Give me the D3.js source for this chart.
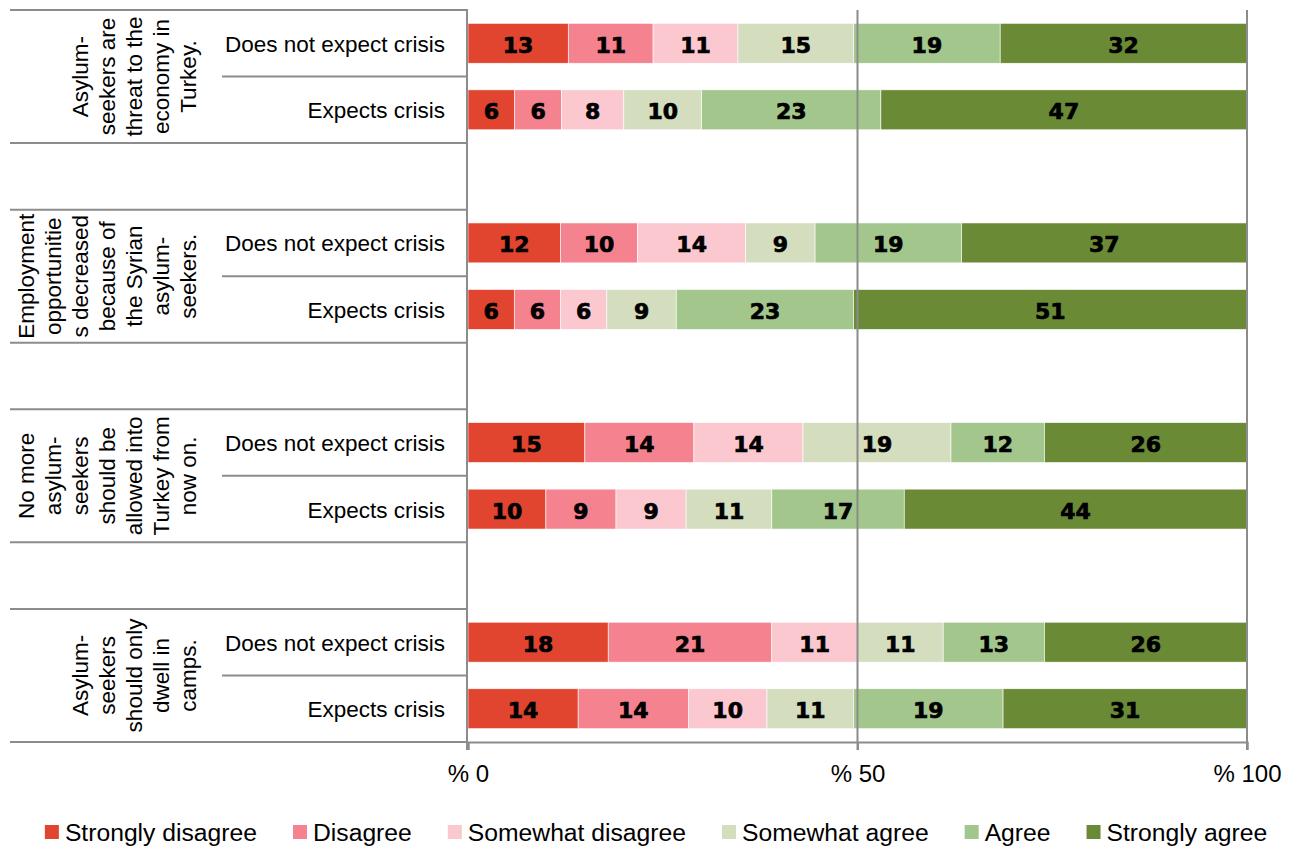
<!DOCTYPE html>
<html>
<head>
<meta charset="utf-8">
<script src="https://cdn.jsdelivr.net/npm/d3@7"></script>
<style>
  html, body { margin: 0; padding: 0; background: #fff; }
  svg { display: block; }
</style>
</head>
<body>
<svg id="chart" width="1302" height="848"></svg>
<script>
// ---------- DATA ----------
const groupLabels = [
  ["Asylum-", "seekers are", "threat to the", "economy in", "Turkey."],
  ["Employment", "opportunitie", "s decreased", "because of", "the Syrian", "asylum-", "seekers."],
  ["No more", "asylum-", "seekers", "should be", "allowed into", "Turkey from", "now on."],
  ["Asylum-", "seekers", "should only", "dwell in", "camps."]
];
const subCategories = ["Does not expect crisis", "Expects crisis"];
const seriesNames = ["Strongly disagree", "Disagree", "Somewhat disagree", "Somewhat agree", "Agree", "Strongly agree"];
const seriesColors = ["#E2452F", "#F4838F", "#FBC8D0", "#D4DEBF", "#A3C68C", "#6B8A36"];
// one value per bar row: g1-DNE, g1-E, g2-DNE, g2-E, g3-DNE, g3-E, g4-DNE, g4-E
const stronglyDisagree = [13, 6, 12, 6, 15, 10, 18, 14];
const disagree         = [11, 6, 10, 6, 14,  9, 21, 14];
const somewhatDisagree = [11, 8, 14, 6, 14,  9, 11, 10];
const somewhatAgree    = [15, 10, 9, 9, 19, 11, 11, 11];
const agree            = [19, 23, 19, 23, 12, 17, 13, 19];
const stronglyAgree    = [32, 47, 37, 51, 26, 44, 26, 31];
const tickValues = [0, 0.5, 1];
const tickLabels = ["% 0", "% 50", "% 100"];

// ---------- BUILD ----------
const seriesValues = [stronglyDisagree, disagree, somewhatDisagree, somewhatAgree, agree, stronglyAgree];
const rows = [];
groupLabels.forEach((g, gi) => {
  subCategories.forEach((s, si) => {
    const idx = gi * 2 + si;
    const r = { key: `g${gi}-s${si}`, group: gi, sub: s };
    seriesNames.forEach((n, k) => r[n] = seriesValues[k][idx]);
    rows.push(r);
  });
});
const rowKeys = [];
groupLabels.forEach((g, gi) => {
  rowKeys.push(`g${gi}-s0`, `g${gi}-s1`);
  if (gi < groupLabels.length - 1) rowKeys.push(`gap${gi}`);
});

const svg = d3.select("#chart");
const plotTop = 10, plotBottom = 742, x0 = 468, x1 = 1247;
const leftEdge = 10, subEdge = 222;

const x = d3.scaleLinear().domain([0, 1]).range([x0, x1]);
const y = d3.scaleBand().domain(rowKeys).range([plotTop, plotBottom]).padding(0);
const barH = y.bandwidth() * 0.6;

const stack = d3.stack().keys(seriesNames).offset(d3.stackOffsetExpand);
const stacked = stack(rows);

const gridColor = "#8C8C8C";

// bars
const layers = svg.append("g").selectAll("g.layer").data(stacked).join("g")
  .attr("class", "layer")
  .attr("fill", (d, i) => seriesColors[i]);
layers.selectAll("rect").data(d => d).join("rect")
  .attr("x", d => x(d[0]))
  .attr("y", d => y(d.data.key) + (y.bandwidth() - barH) / 2)
  .attr("width", d => x(d[1]) - x(d[0]))
  .attr("height", barH)
  .attr("stroke", "#fff")
  .attr("stroke-width", 0.6);

// value labels
layers.selectAll("text").data((d, i) => d.map(v => ({ v, name: seriesNames[i] }))).join("text")
  .attr("x", d => (x(d.v[0]) + x(d.v[1])) / 2)
  .attr("y", d => y(d.v.data.key) + y.bandwidth() / 2 + 2)
  .attr("text-anchor", "middle")
  .attr("dominant-baseline", "central")
  .attr("font-family", "DejaVu Sans, sans-serif")
  .attr("font-weight", "bold")
  .attr("font-size", 22)
  .attr("fill", "#000")
  .attr("stroke", "#000")
  .attr("stroke-width", 0.7)
  .text(d => d.v.data[d.name]);

// gridlines (50, 100)
svg.append("g").selectAll("line").data(tickValues.slice(1)).join("line")
  .attr("x1", d => x(d)).attr("x2", d => x(d))
  .attr("y1", plotTop).attr("y2", plotBottom + 8)
  .attr("stroke", gridColor).attr("stroke-width", 2);

// category axis lines
const catG = svg.append("g").attr("stroke", gridColor).attr("stroke-width", 2);
const fullLines = [plotTop];
groupLabels.forEach((g, gi) => {
  fullLines.push(y(`g${gi}-s1`) + y.bandwidth());
  if (gi < groupLabels.length - 1) fullLines.push(y(`gap${gi}`) + y.bandwidth());
});
catG.selectAll("line.full").data(fullLines).join("line")
  .attr("class", "full")
  .attr("x1", leftEdge).attr("x2", x0)
  .attr("y1", d => d).attr("y2", d => d);
catG.selectAll("line.inner").data(groupLabels.map((g, gi) => y(`g${gi}-s1`))).join("line")
  .attr("class", "inner")
  .attr("x1", subEdge).attr("x2", x0)
  .attr("y1", d => d).attr("y2", d => d);
catG.append("line").attr("x1", x0 - 1).attr("x2", x0 - 1).attr("y1", plotTop).attr("y2", plotBottom + 8);

// x axis
const xAxis = d3.axisBottom(x).tickValues(tickValues).tickFormat((d, i) => tickLabels[i]).tickSize(8).tickPadding(15);
const axG = svg.append("g").attr("transform", `translate(0,${plotBottom})`).call(xAxis);
axG.select(".domain").attr("stroke", gridColor).attr("stroke-width", 2);
axG.selectAll(".tick line").attr("stroke", gridColor).attr("stroke-width", 2);
axG.selectAll(".tick text")
  .attr("font-family", "Liberation Sans, Arial, sans-serif")
  .attr("font-size", 24)
  .attr("fill", "#000");

// sub-category labels
svg.append("g").selectAll("text").data(rows).join("text")
  .attr("x", 445)
  .attr("y", d => y(d.key) + y.bandwidth() / 2 + 1)
  .attr("text-anchor", "end")
  .attr("dominant-baseline", "central")
  .attr("font-family", "Liberation Sans, Arial, sans-serif")
  .attr("font-size", 22.5)
  .attr("fill", "#000")
  .text(d => d.sub);

// group labels (rotated)
const lineStep = 27, lastLineX = 188;
const grpG = svg.append("g");
groupLabels.forEach((lines, gi) => {
  const yc = (y(`g${gi}-s0`) + y(`g${gi}-s1`) + y.bandwidth()) / 2;
  lines.forEach((ln, li) => {
    const cx = lastLineX - (lines.length - 1 - li) * lineStep;
    grpG.append("text")
      .attr("transform", `translate(${cx},${yc}) rotate(-90)`)
      .attr("text-anchor", "middle")
      .attr("dominant-baseline", "central")
      .attr("font-family", "Liberation Sans, Arial, sans-serif")
      .attr("font-size", 22.5)
      .attr("fill", "#000")
      .text(ln);
  });
});

// legend
const legY = 832, sq = 14, gapSq = 6, gapItem = 36;
const legG = svg.append("g");
const items = legG.selectAll("g").data(seriesNames).join("g");
items.append("rect").attr("width", sq).attr("height", sq).attr("y", legY - sq / 2)
  .attr("fill", (d, i) => seriesColors[i]);
items.append("text")
  .attr("x", sq + gapSq).attr("y", legY)
  .attr("dominant-baseline", "central")
  .attr("font-family", "Liberation Sans, Arial, sans-serif")
  .attr("font-size", 24.7)
  .attr("fill", "#000")
  .text(d => d);
let cur = 0;
const offsets = [];
items.each(function () {
  offsets.push(cur);
  const w = this.getBBox().width;
  cur += w + gapItem;
});
const totalW = cur - gapItem;
const startX = 656 - totalW / 2;
items.attr("transform", (d, i) => `translate(${startX + offsets[i]},0)`);
</script>
</body>
</html>
